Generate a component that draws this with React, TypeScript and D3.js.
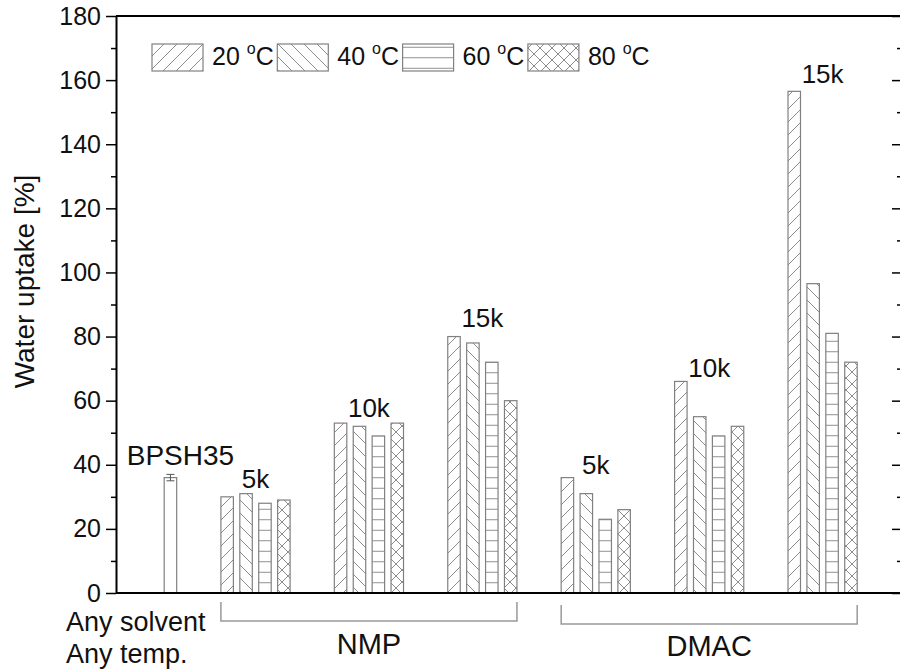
import React, { useEffect, useRef } from "react";
import * as d3 from "d3";

// temperatures (legend), molecular weights, solvents
const temps = ["20", "40", "60", "80"];
const mwLabels = ["5k", "10k", "15k"];
const solvents = ["NMP", "DMAC"];

// water uptake [%] per solvent, rows = 5k/10k/15k, cols = 20/40/60/80 C
const nmpValues = [
  [30, 31, 28, 29],
  [53, 52, 49, 53],
  [80, 78, 72, 60],
];
const dmacValues = [
  [36, 31, 23, 26],
  [66, 55, 49, 52],
  [156.5, 96.5, 81, 72],
];
const bpshValue = 36;
const bpshErr = 1;

// label anchors (in % units)
const bpshLabelY = 39.9;
const nmpLabelY = [32.8, 54.9, 83];
const dmacLabelY = [37.1, 67.4, 159.1];

const yTicks = [0, 20, 40, 60, 80, 100, 120, 140, 160, 180];
const yMinor = [10, 30, 50, 70, 90, 110, 130, 150, 170];

const FONT = "'Liberation Sans', Arial, sans-serif";
const GRAY = "#808080";

const App = () => {
  const ref = useRef<SVGSVGElement>(null);

  useEffect(() => {
    const svg = d3.select(ref.current);
    svg.selectAll("*").remove();

    const left = 116,
      right = 902,
      top = 16,
      bottom = 593;

    // x in "slots": BPSH35 at 0, groups of 4 bars + 2 empty slots
    const x = d3.scaleLinear().domain([-2.88, 38.7]).range([left, right]);
    const y = d3.scaleLinear().domain([0, 180]).range([bottom, top]);
    const barW = x(0.66) - x(0);

    // hatch patterns
    const defs = svg.append("defs");
    const pat = (id, w, h, d) => {
      defs
        .append("pattern")
        .attr("id", id)
        .attr("patternUnits", "userSpaceOnUse")
        .attr("width", w)
        .attr("height", h)
        .append("path")
        .attr("d", d)
        .attr("stroke", "#8c8c8c")
        .attr("stroke-width", 1)
        .attr("fill", "none");
    };
    pat("p20", 13, 13, "M0,13 L13,0 M-3.25,3.25 L3.25,-3.25 M9.75,16.25 L16.25,9.75");
    pat("p40", 13, 13, "M0,0 L13,13 M-3.25,9.75 L3.25,16.25 M9.75,-3.25 L16.25,3.25");
    pat("p60", 10, 10.5, "M0,5.25 H10");
    pat(
      "p80",
      12,
      12,
      "M0,12 L12,0 M-3,3 L3,-3 M9,15 L15,9 M0,0 L12,12 M-3,9 L3,15 M9,-3 L15,3"
    );
    const patIds = ["p20", "p40", "p60", "p80"];

    // bars
    const bars = [];
    [nmpValues, dmacValues].forEach((sv, s) => {
      sv.forEach((row, g) => {
        row.forEach((v, i) => {
          bars.push({ slot: 3 + (s * 3 + g) * 6 + i, value: v, t: i });
        });
      });
    });

    const gBars = svg.append("g");
    gBars
      .selectAll("rect.bg")
      .data(bars)
      .join("rect")
      .attr("x", (d) => x(d.slot) - barW / 2)
      .attr("y", (d) => y(d.value))
      .attr("width", barW)
      .attr("height", (d) => y(0) - y(d.value))
      .attr("fill", "white");
    gBars
      .selectAll("rect.fg")
      .data(bars)
      .join("rect")
      .attr("x", (d) => x(d.slot) - barW / 2)
      .attr("y", (d) => y(d.value))
      .attr("width", barW)
      .attr("height", (d) => y(0) - y(d.value))
      .attr("fill", (d) => `url(#${patIds[d.t]})`)
      .attr("stroke", GRAY)
      .attr("stroke-width", 1.2);

    // BPSH35 bar + error bar
    svg
      .append("rect")
      .attr("x", x(0) - barW / 2)
      .attr("y", y(bpshValue))
      .attr("width", barW)
      .attr("height", y(0) - y(bpshValue))
      .attr("fill", "white")
      .attr("stroke", GRAY)
      .attr("stroke-width", 1.2);
    const eb = svg.append("g").attr("stroke", "#555").attr("stroke-width", 1);
    eb.append("line")
      .attr("x1", x(0))
      .attr("x2", x(0))
      .attr("y1", y(bpshValue + bpshErr))
      .attr("y2", y(bpshValue - bpshErr));
    [bpshValue + bpshErr, bpshValue - bpshErr].forEach((v) => {
      eb.append("line")
        .attr("x1", x(0) - 4)
        .attr("x2", x(0) + 4)
        .attr("y1", y(v))
        .attr("y2", y(v));
    });

    // frame
    const frame = svg.append("g").attr("stroke", "black").attr("stroke-width", 2);
    frame.append("line").attr("x1", left).attr("x2", right).attr("y1", top).attr("y2", top);
    frame.append("line").attr("x1", left).attr("x2", right).attr("y1", bottom).attr("y2", bottom);

    // axes
    const axL = svg
      .append("g")
      .attr("transform", `translate(${left},0)`)
      .call(d3.axisLeft(y).tickValues(yTicks).tickSize(10).tickSizeOuter(0).tickPadding(5));
    axL.select(".domain").attr("stroke-width", 2);
    axL.selectAll(".tick line").attr("stroke-width", 1.5);
    axL
      .selectAll(".tick text")
      .attr("font-family", FONT)
      .attr("font-size", 25)
      .attr("fill", "#111");
    svg
      .append("g")
      .attr("transform", `translate(${left},0)`)
      .call(d3.axisLeft(y).tickValues(yMinor).tickSize(5).tickFormat(() => ""))
      .call((g) => g.select(".domain").remove())
      .selectAll(".tick line")
      .attr("stroke-width", 1.5);

    const axR = svg
      .append("g")
      .attr("transform", `translate(${right},0)`)
      .call(d3.axisLeft(y).tickValues(yTicks).tickSize(10).tickSizeOuter(0).tickFormat(() => ""));
    axR.select(".domain").attr("stroke-width", 2);
    axR.selectAll(".tick line").attr("stroke-width", 1.5);
    svg
      .append("g")
      .attr("transform", `translate(${right},0)`)
      .call(d3.axisLeft(y).tickValues(yMinor).tickSize(5).tickFormat(() => ""))
      .call((g) => g.select(".domain").remove())
      .selectAll(".tick line")
      .attr("stroke-width", 1.5);

    // y title
    svg
      .append("text")
      .attr("transform", `translate(34,${(top + bottom) / 2 - 23}) rotate(-90)`)
      .attr("text-anchor", "middle")
      .attr("font-family", FONT)
      .attr("font-size", 28)
      .attr("fill", "#111")
      .text("Water uptake [%]");

    // bar labels
    const lab = (tx, xx, yy, fs = 26) =>
      svg
        .append("text")
        .attr("x", xx)
        .attr("y", yy)
        .attr("text-anchor", "middle")
        .attr("font-family", FONT)
        .attr("font-size", fs)
        .attr("fill", "#111")
        .text(tx);
    lab("BPSH35", x(0) + 10, y(bpshLabelY), 28);
    [nmpLabelY, dmacLabelY].forEach((ly, s) => {
      mwLabels.forEach((m, g) => {
        const first = 3 + (s * 3 + g) * 6;
        lab(m, (x(first) + x(first + 3)) / 2, y(ly[g]));
      });
    });

    // solvent brackets
    const br = svg.append("g").attr("stroke", "#999").attr("stroke-width", 1.5).attr("fill", "none");
    solvents.forEach((sName, s) => {
      const x0 = x(3 + s * 18) - barW / 2;
      const x1 = x(3 + s * 18 + 15) + barW / 2;
      const yb = 621 + s * 3;
      br.append("path").attr("d", `M${x0},${yb - 19} V${yb} H${x1} V${yb - 19}`);
      svg
        .append("text")
        .attr("x", (x0 + x1) / 2)
        .attr("y", 654 + s * 2)
        .attr("text-anchor", "middle")
        .attr("font-family", FONT)
        .attr("font-size", 29)
        .attr("fill", "#111")
        .text(sName);
    });

    ["Any solvent", "Any temp."].forEach((t, i) => {
      svg
        .append("text")
        .attr("x", 66)
        .attr("y", 631 + i * 32)
        .attr("font-family", FONT)
        .attr("font-size", 27)
        .attr("fill", "#111")
        .text(t);
    });

    // legend
    const lg = svg.append("g");
    temps.forEach((t, i) => {
      const lx = 152 + i * 125.3;
      lg.append("rect")
        .attr("x", lx)
        .attr("y", 44)
        .attr("width", 51)
        .attr("height", 27)
        .attr("fill", `url(#${patIds[i]})`)
        .attr("stroke", GRAY)
        .attr("stroke-width", 1.2);
      const tx = lg
        .append("text")
        .attr("x", lx + 60)
        .attr("y", 65)
        .attr("font-family", FONT)
        .attr("font-size", 25)
        .attr("fill", "#111");
      tx.append("tspan").text(t + " ");
      tx.append("tspan").attr("dy", -11).attr("font-size", 16).text("o");
      tx.append("tspan").attr("dy", 11).text("C");
    });
  }, []);

  return (
    <svg
      ref={ref}
      width={900}
      height={669}
      style={{ position: "absolute", left: 0, top: 0, background: "white", display: "block" }}
    ></svg>
  );
};

export default App;
